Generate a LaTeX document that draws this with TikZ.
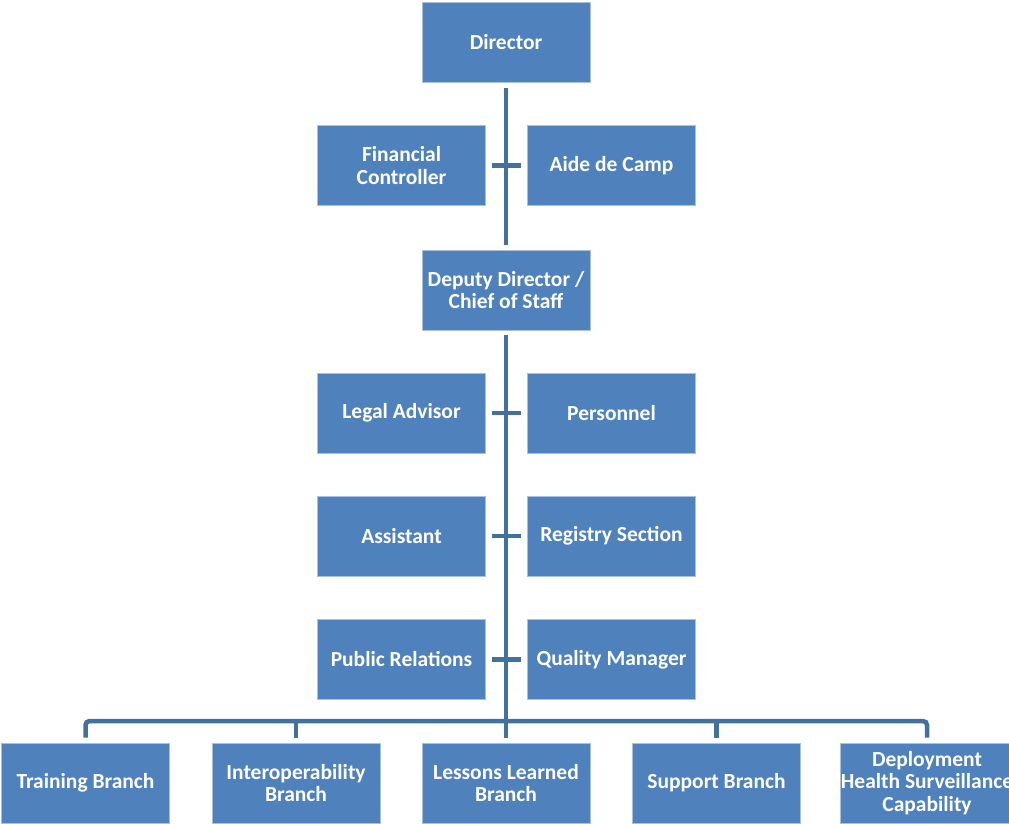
\documentclass[tikz,border=0pt]{standalone}
\usepackage{fontspec}
\setmainfont{Carlito}
\definecolor{boxfill}{HTML}{4F81BD}
\definecolor{boxline}{HTML}{A9C1DF}
\definecolor{conncol}{HTML}{41719C}
\begin{document}
\begin{tikzpicture}[x=1pt,y=-1pt,
  box/.style={draw=boxline,line width=0.8pt,fill=boxfill,minimum width=168pt,minimum height=80pt,
    inner sep=0pt,text=white,font=\fontsize{21.5}{22.5}\selectfont\bfseries,align=center},
  conn/.style={draw=conncol,line width=4.5pt}]
\useasboundingbox (0,0) rectangle (1009,823);
\clip (0,0) rectangle (1009,823);
\node[box] (dir) at (506,42.5) {Director};
\node[box] (fc) at (401.5,165.5) {Financial\\Controller};
\node[box] (adc) at (611.5,165.5) {Aide de Camp};
\node[box] (dep) at (506,290) {Deputy Director /\\Chief of Staff};
\node[box] (la) at (401.5,413) {Legal Advisor};
\node[box] (pe) at (611.5,413) {Personnel};
\node[box] (as) at (401.5,536) {Assistant};
\node[box] (rs) at (611.5,536) {Registry Section};
\node[box] (pr) at (401.5,659.5) {Public Relations};
\node[box] (qm) at (611.5,659.5) {Quality Manager};
\node[box] (tb) at (85.5,783) {Training Branch};
\node[box] (ib) at (296,783) {Interoperability\\Branch};
\node[box] (ll) at (506,783) {Lessons Learned\\Branch};
\node[box] (sb) at (716.5,783) {Support Branch};
\node[box] (dh) at (927,783) {Deployment\\Health Surveillance\\Capability};
\coordinate (bar) at (506,721);
% main trunk
\draw[conn] ([yshift=-5pt]dir.south) -- ([yshift=5pt]dep.north);
\draw[conn] ([yshift=-5pt]dep.south) -- ([yshift=5pt]ll.north);
% side stubs
\draw[conn] ([xshift=6pt]fc.east) -- ([xshift=-6pt]adc.west);
\draw[conn] ([xshift=6pt]la.east) -- ([xshift=-6pt]pe.west);
\draw[conn] ([xshift=6pt]as.east) -- ([xshift=-6pt]rs.west);
\draw[conn] ([xshift=6pt]pr.east) -- ([xshift=-6pt]qm.west);
% bottom bar
\draw[conn,rounded corners=4pt] ([yshift=5pt]tb.north) |- (bar) -| ([yshift=5pt]dh.north);
\draw[conn] ([yshift=5pt]ib.north) -- (ib.north |- bar);
\draw[conn] ([yshift=5pt]sb.north) -- (sb.north |- bar);
\end{tikzpicture}
\end{document}
